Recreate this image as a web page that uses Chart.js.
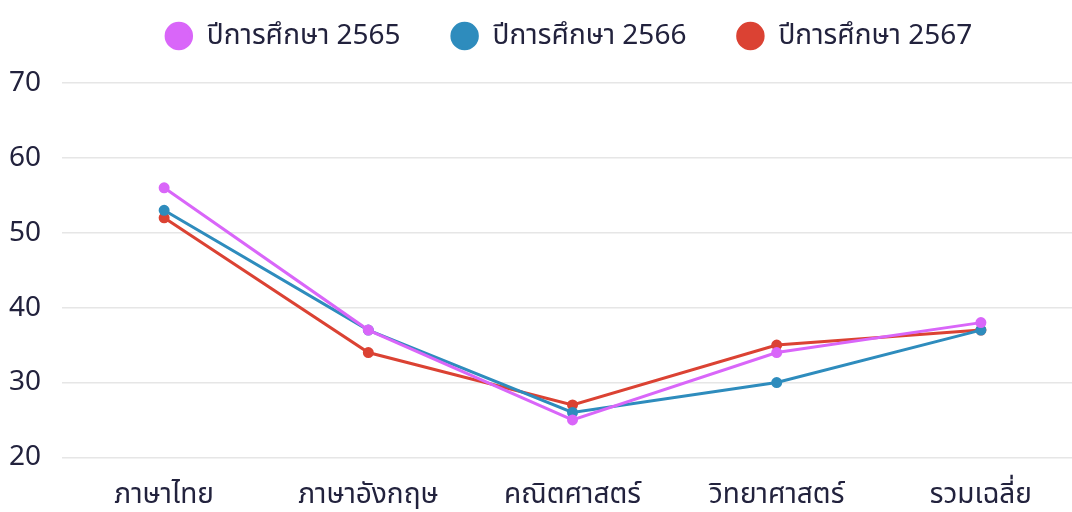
<!DOCTYPE html>
<html>
<head>
<meta charset="utf-8">
<script src="https://cdn.jsdelivr.net/npm/chart.js@4"></script>
<style>
html,body{margin:0;padding:0;background:#fff;overflow:hidden;width:1072px;height:512px;}
#wrap{width:1083px;height:512px;position:relative;}
</style>
</head>
<body>
<div id="wrap"><canvas id="c"></canvas></div>
<script>
const categories = ["ภาษาไทย", "ภาษาอังกฤษ", "คณิตศาสตร์", "วิทยาศาสตร์", "รวมเฉลี่ย"];
const seriesNames = ["ปีการศึกษา 2565", "ปีการศึกษา 2566", "ปีการศึกษา 2567"];
const values2565 = [56, 37, 25, 34, 38];
const values2566 = [53, 37, 26, 30, 37];
const values2567 = [52, 34, 27, 35, 37];
const yTicks = [20, 30, 40, 50, 60, 70];

const colors = ["#d966f9", "#2e8cbd", "#db4233"];
const FONT = "'Noto Sans', 'Noto Sans Thai', sans-serif";
const TEXT = "#22223d";

function ds(label, data, color) {
  return {
    label, data,
    borderColor: color, backgroundColor: color,
    pointBackgroundColor: color, pointBorderColor: color,
    borderWidth: 3, pointRadius: 4, pointHoverRadius: 4, tension: 0
  };
}

// extra space below the legend, and a small horizontal nudge
const legendGap = {
  id: 'legendGap',
  beforeUpdate(chart) {
    const lg = chart.legend;
    if (lg && !lg._gapPatched) {
      const orig = lg.fit;
      lg.fit = function () { orig.call(this); this.height += 23; };
      lg._gapPatched = true;
    }
  },
  afterLayout(chart) {
    const lg = chart.legend;
    if (lg) { lg.left -= 4; lg.right -= 4; }
  }
};

new Chart(document.getElementById('c'), {
  type: 'line',
  data: {
    labels: categories,
    datasets: [
      ds(seriesNames[0], values2565, colors[0]),
      ds(seriesNames[1], values2566, colors[1]),
      ds(seriesNames[2], values2567, colors[2])
    ]
  },
  plugins: [legendGap],
  options: {
    responsive: true,
    maintainAspectRatio: false,
    animation: false,
    layout: { autoPadding: false, padding: { left: -12, right: 0, top: -28, bottom: -21 } },
    plugins: {
      tooltip: { enabled: false },
      legend: {
        position: 'top',
        fullSize: false,
        labels: {
          usePointStyle: true,
          pointStyle: 'circle',
          boxWidth: 28, boxHeight: 18,
          padding: 50,
          color: TEXT,
          font: { family: FONT, size: 28 }
        }
      }
    },
    scales: {
      x: {
        offset: true,
        grid: { display: false, drawTicks: false },
        border: { display: false },
        ticks: { color: TEXT, padding: 21, font: { family: FONT, size: 28 } }
      },
      y: {
        min: yTicks[0], max: yTicks[yTicks.length - 1],
        afterBuildTicks: (axis) => { axis.ticks = yTicks.map(v => ({ value: v })); },
        grid: { color: '#e6e6e6', lineWidth: 1.5, drawTicks: false },
        border: { display: false },
        ticks: { color: TEXT, padding: 21, font: { family: FONT, size: 28 } }
      }
    }
  }
});
</script>
</body>
</html>
